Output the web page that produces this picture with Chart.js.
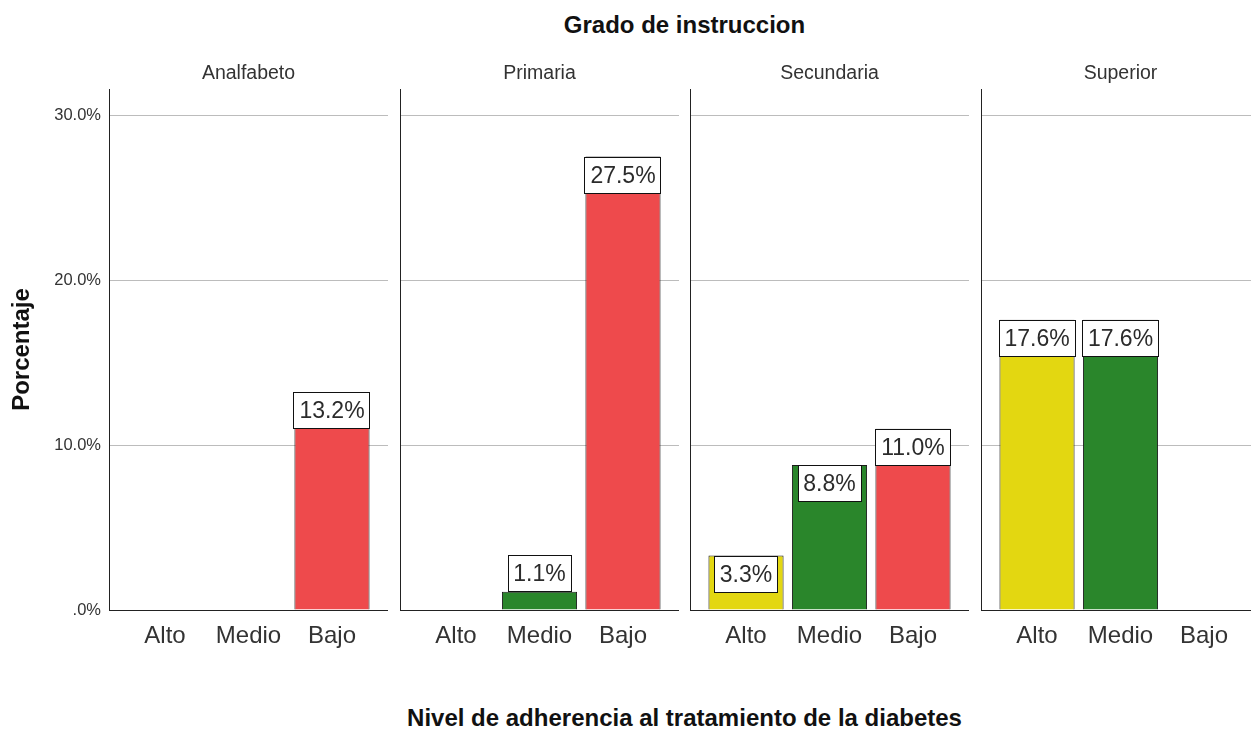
<!DOCTYPE html>
<html><head><meta charset="utf-8">
<script src="https://cdn.jsdelivr.net/npm/chart.js@4/dist/chart.umd.min.js"></script>
<style>
html,body{margin:0;padding:0;background:#fff;}
#wrap{position:relative;width:1251px;height:729px;overflow:hidden;background:#fff;font-family:"Liberation Sans",Arial,sans-serif;}
canvas{position:absolute;}
.ttl{position:absolute;left:109px;width:1151px;text-align:center;font-weight:bold;font-size:24px;color:#111;line-height:28px;white-space:nowrap;}
</style></head><body>
<div id="wrap">
<div class="ttl" style="top:11px">Grado de instruccion</div>
<div class="ttl" style="top:704px">Nivel de adherencia al tratamiento de la diabetes</div>
<canvas id="c0" width="388" height="620" style="left:0;top:40px"></canvas>
<canvas id="c1" width="281" height="620" style="left:398px;top:40px"></canvas>
<canvas id="c2" width="281" height="620" style="left:688px;top:40px"></canvas>
<canvas id="c3" width="281" height="620" style="left:979px;top:40px"></canvas>
</div>
<script>
// ---- data ----
const categories = ['Alto', 'Medio', 'Bajo'];
const panels = ['Analfabeto', 'Primaria', 'Secundaria', 'Superior'];
const analfabeto = [null, null, 13.2];
const primaria   = [null, 1.1, 27.5];
const secundaria = [3.3, 8.8, 11.0];
const superior   = [17.6, 17.6, null];
const yTicks = [0, 10, 20, 30];
const nivelColors = ['#E3D711', '#2A862B', '#EE4A4C'];
const panelValues = [analfabeto, primaria, secundaria, superior];

const FONT = '"Liberation Sans", Arial, sans-serif';

const boxLabels = {
  id: 'boxLabels',
  afterDatasetsDraw(chart) {
    const ctx = chart.ctx;
    const meta = chart.getDatasetMeta(0);
    const ds = chart.data.datasets[0];
    ctx.save();
    ctx.font = '23px ' + FONT;
    meta.data.forEach((bar, i) => {
      const v = ds.data[i].y;
      if (v == null) return;
      const txt = v.toFixed(1) + '%';
      const tw = ctx.measureText(txt).width;
      const w = Math.round(tw + 12), h = 37;
      const x = Math.round(bar.x - w / 2);
      const barH = bar.base - bar.y;
      const top = barH >= h ? Math.round(bar.y) : Math.round(bar.y) - h;
      ctx.fillStyle = '#fff';
      ctx.fillRect(x, top, w, h);
      ctx.strokeStyle = '#111';
      ctx.lineWidth = 1;
      ctx.strokeRect(x + 0.5, top + 0.5, w - 1, h - 1);
      ctx.fillStyle = '#2b2b2b';
      ctx.textAlign = 'center';
      ctx.textBaseline = 'middle';
      ctx.fillText(txt, bar.x, top + h / 2 + 1);
    });
    ctx.restore();
  }
};

panelValues.forEach((vals, p) => {
  const first = p === 0;
  new Chart(document.getElementById('c' + p), {
    type: 'bar',
    data: {
      datasets: [{
        data: vals.map((v, i) => ({ x: i, y: v })),
        backgroundColor: nivelColors,
        borderColor: '#1a1a1a',
        borderWidth: 1,
        barPercentage: 0.9,
        categoryPercentage: 1.0
      }]
    },
    options: {
      responsive: false,
      animation: false,
      layout: { padding: { left: first ? 0 : 2, right: 0, top: 0, bottom: 0 } },
      plugins: {
        legend: { display: false },
        tooltip: { enabled: false },
        title: {
          display: true,
          fullSize: false,
          text: panels[p],
          color: '#333',
          font: { family: FONT, size: 19.5, weight: 'normal', lineHeight: 1.2 },
          padding: { top: 22, bottom: 3.6 }
        }
      },
      scales: {
        x: {
          type: 'linear',
          offset: false,
          min: -0.671,
          max: 2.671,
          afterBuildTicks: (s) => { s.ticks = categories.map((c, i) => ({ value: i })); },
          afterFit: (s) => { s.height = 50; },
          ticks: {
            autoSkip: false,
            maxRotation: 0,
            padding: 12,
            color: '#333',
            font: { family: FONT, size: 24 },
            callback: (v) => categories[v] ?? ''
          },
          grid: { display: false, drawTicks: false, offset: false },
          border: { display: true, color: '#222', width: 1 }
        },
        y: {
          min: 0,
          max: 31.6,
          afterBuildTicks: (s) => { s.ticks = yTicks.map(v => ({ value: v })); },
          afterFit: (s) => { s.width = first ? 109 : 0; },
          ticks: {
            display: first,
            padding: 8,
            color: '#333',
            font: { family: FONT, size: 16.5 },
            callback: (v) => v === 0 ? '.0%' : v.toFixed(1) + '%'
          },
          grid: {
            drawTicks: false,
            color: (c) => c.tick && c.tick.value === 0 ? 'rgba(0,0,0,0)' : '#bcbcbc',
            lineWidth: 1
          },
          border: { display: true, color: '#222', width: 1 },
          title: {
            display: first,
            text: 'Porcentaje',
            color: '#111',
            font: { family: FONT, size: 24, weight: 'bold', lineHeight: 1.2 },
            padding: { top: 7.6, bottom: 0 }
          }
        }
      }
    },
    plugins: [boxLabels]
  });
});
</script>
</body></html>
